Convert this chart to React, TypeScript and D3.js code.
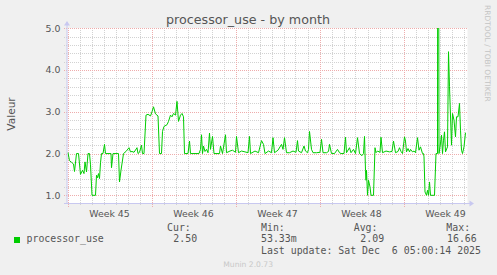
import React from "react";
import * as d3 from "d3";

// hours since 2025-11-03 00:00 UTC, value
const hours: number[] = [
  0, 1, 4, 8, 12, 14, 18, 22, 26, 30, 33, 35, 38, 41, 44, 46, 49, 56, 58, 60, 62, 64, 66, 68, 71, 74, 76, 87, 88, 91,
  102, 104, 107, 112, 117, 123, 126, 129, 133, 139, 141, 144, 148, 150, 153, 157, 161, 166, 169, 172, 176, 181, 184, 188,
  190, 193, 199, 202, 206, 209, 212, 216, 219, 222, 226, 229, 232, 234, 241, 244, 246, 263, 266, 268, 270, 272, 275, 278,
  281, 284, 286, 290, 293, 304, 306, 310, 316, 318, 325, 330, 336, 338, 342, 348, 355, 361, 364, 366, 375, 382, 388, 392,
  395, 402, 408, 411, 414, 421, 428, 431, 434, 438, 444, 451, 457, 460, 462, 468, 473, 476, 480, 482, 484, 488, 491, 498,
  505, 508, 511, 518, 522, 524, 528, 534, 540, 544, 547, 553, 556, 558, 564, 567, 572, 576, 580, 584, 589, 592, 594, 596,
  597, 598, 600, 602, 605, 607, 612, 615, 617, 620, 625, 627, 630, 637, 644, 649, 652, 656, 661, 664, 667, 670, 674, 676,
  678, 681, 684, 686, 690, 693, 696, 700, 703, 706, 710, 712, 713, 715, 718, 720, 722, 724, 726, 734, 737, 740, 741, 743,
  745, 748, 750, 752, 754, 756, 760, 762, 764, 768, 770, 773, 776, 778, 781, 784, 786, 788, 790, 793, 796,
];
const values: number[] = [
  2.0, 2.02, 1.83, 1.79, 1.75, 1.57, 2.0, 2.0, 1.5, 1.6, 1.52, 1.8, 1.56, 2.0, 2.0, 1.73, 1.0, 1.0, 1.48, 1.42, 1.52, 1.4, 1.78, 2.0, 2.0, 2.22, 2.0, 2.0, 1.66, 2.0,
  2.0, 1.32, 1.6, 2.0, 2.05, 2.14, 2.04, 2.05, 2.03, 2.14, 2.0, 2.03, 2.2, 2.0, 2.0, 2.92, 2.94, 2.9, 3.0, 3.12, 2.95, 2.9, 2.0, 2.0,
  2.53, 2.65, 2.69, 2.77, 2.92, 2.88, 2.96, 2.92, 3.25, 2.77, 2.92, 2.96, 2.88, 2.0, 2.0, 2.3, 2.0, 2.0, 2.1, 2.45, 2.0, 2.18, 2.05, 2.1,
  2.02, 2.49, 2.1, 2.41, 2.0, 2.0, 2.18, 2.0, 2.45, 2.02, 2.06, 2.08, 2.03, 2.41, 2.02, 2.06, 2.04, 2.02, 2.41, 2.0, 2.06, 2.02, 2.31, 2.22,
  2.0, 2.06, 2.02, 2.38, 2.02, 2.08, 2.22, 2.1, 2.38, 2.02, 2.02, 2.06, 2.03, 2.31, 2.06, 2.02, 2.18, 2.06, 2.02, 2.1, 2.53, 2.1, 2.02, 2.02,
  2.03, 2.34, 2.02, 2.02, 2.05, 2.22, 2.0, 2.0, 2.1, 2.02, 2.0, 2.0, 2.39, 2.02, 2.14, 2.02, 2.1, 2.0, 2.38, 2.0, 1.95, 2.0, 2.41, 1.6,
  1.36, 1.6, 1.0, 1.36, 1.2, 1.0, 1.0, 2.14, 2.02, 2.06, 2.03, 2.39, 2.02, 2.06, 2.04, 2.05, 2.3, 2.02, 2.05, 2.14, 2.05, 2.0, 2.4, 2.3,
  2.04, 2.12, 2.04, 2.1, 2.04, 2.06, 2.02, 2.38, 2.08, 2.16, 2.0, 2.0, 1.92, 1.08, 1.0, 1.12, 1.0, 1.32, 1.0, 1.0, 2.0, 2.0, 16.66, 2.0,
  2.16, 2.44, 2.0, 2.32, 2.52, 2.04, 2.16, 4.44, 3.6, 2.2, 2.96, 2.8, 2.4, 2.88, 2.88, 3.2, 2.56, 2.08, 2.0, 2.16, 2.5,
];
const yTicks: number[] = [1, 2, 3, 4, 5];
const legendHeaders: string[] = ["Cur:", "Min:", "Avg:", "Max:"];
const legendValues: string[] = ["2.50", "53.33m", "2.09", "16.66"];
const seriesName = "processor_use";
const title = "processor_use - by month";
const lastUpdate = "Last update: Sat Dec  6 05:00:14 2025";

const START = Date.UTC(2025, 10, 3, 0, 0);
const HOUR = 3600 * 1000;

export default function App() {
  const W = 497, H = 275;
  const left = 67.5, right = 467.5, top = 28, bottom = 203.5;
  const x = d3.scaleUtc().domain([new Date(START), new Date(START + 800 * HOUR)]).range([left, right]);
  const y = d3.scaleLinear().domain([1, 5]).range([195.3, 28.3]);

  const data = hours.map((h, i) => ({ t: new Date(START + h * HOUR), v: values[i] }));
  const line = d3.line<{ t: Date; v: number }>().x((d) => x(d.t)).y((d) => y(d.v));

  const days = d3.utcDay.range(new Date(START), new Date(START + 800 * HOUR + 1));
  const weeks = d3.utcMonday.range(new Date(START), new Date(START + 800 * HOUR + 1));
  const minorY = d3.range(1, 5.001, 0.2).map((v) => Math.round(v * 10) / 10);
  const weekFmt = d3.utcFormat("%V");

  const sans = "'DejaVu Sans', sans-serif";
  const mono = "'DejaVu Sans Mono', monospace";
  const txt = "#555";
  const axisCol = "#c8c8f0";
  const minorCol = "#d2d2d2";
  const majorCol = "#eeacac";

  const hdrX = [167, 261, 353.7, 446.3];
  const valX = [173.3, 261, 360.3, 447];

  return (
    <svg width={W} height={H} style={{ position: "absolute", left: 0, top: 0, background: "#f0f0f0" }}>
      <rect x={0} y={0} width={W} height={H} fill="#f0f0f0" />
      <rect x={left} y={top} width={right - left} height={bottom - top} fill="#ffffff" />
      <defs>
        <clipPath id="plotclip">
          <rect x={left} y={top} width={right - left} height={bottom - top} />
        </clipPath>
      </defs>
      <g shapeRendering="crispEdges">
        {/* minor vertical grid (days) */}
        {days.map((d, i) => {
          const px = Math.round(x(d)) + 0.5;
          return (
            <line key={"dv" + i} x1={px} x2={px} y1={top} y2={bottom + 2.5} stroke={minorCol} strokeDasharray="1,1" />
          );
        })}
        {/* minor horizontal grid */}
        {minorY.map((v, i) => {
          const py = Math.round(y(v)) + 0.5;
          return <line key={"mh" + i} x1={64} x2={right} y1={py} y2={py} stroke={minorCol} strokeDasharray="1,1" />;
        })}
        {/* major vertical grid (weeks) */}
        {weeks.map((d, i) => {
          const px = Math.round(x(d)) + 0.5;
          return (
            <line key={"wv" + i} x1={px} x2={px} y1={top} y2={bottom + 3.5} stroke={majorCol} strokeDasharray="1,1" />
          );
        })}
        {/* major horizontal grid */}
        {yTicks.map((v, i) => {
          const py = Math.round(y(v)) + 0.5;
          return <line key={"Mh" + i} x1={64} x2={right} y1={py} y2={py} stroke={majorCol} strokeDasharray="1,1" />;
        })}
      </g>
      {/* data */}
      <g clipPath="url(#plotclip)">
        <path d={line(data) || ""} fill="none" stroke="#00cc00" strokeWidth={1} />
      </g>
      {/* axes */}
      <line x1={left - 0.5} x2={left - 0.5} y1={bottom} y2={24} stroke={axisCol} />
      <path d={`M ${left - 3.5} 25.5 L ${left - 0.5} 21 L ${left + 2.5} 25.5 Z`} fill={axisCol} />
      <line x1={64} x2={right + 3} y1={bottom} y2={bottom} stroke={axisCol} />
      <path d={`M ${right + 2} ${bottom - 3} L ${right + 6.5} ${bottom} L ${right + 2} ${bottom + 3} Z`} fill={axisCol} />
      {/* y tick labels */}
      {yTicks.map((v, i) => (
        <text key={"yl" + i} x={60.5} y={y(v) + 3.4} textAnchor="end" fontFamily={sans} fontSize={9.4} fill={txt}>
          {v.toFixed(1)}
        </text>
      ))}
      {/* week labels */}
      {weeks.map((d, i) => (
        <text
          key={"wl" + i}
          x={x(new Date(d.getTime() + 84 * HOUR))}
          y={216.5}
          textAnchor="middle"
          fontFamily={sans}
          fontSize={9.4}
          fill={txt}
        >
          {"Week " + +weekFmt(d)}
        </text>
      ))}
      {/* title */}
      <text x={248} y={24} textAnchor="middle" fontFamily={sans} fontSize={12.7} fill={txt}>
        {title}
      </text>
      {/* y label */}
      <text
        transform="translate(15,114) rotate(-90)"
        textAnchor="middle"
        fontFamily={sans}
        fontSize={10.6}
        fill={txt}
      >
        Valeur
      </text>
      {/* watermark */}
      <text transform="translate(484.5,5) rotate(90)" fontFamily={sans} fontSize={7.5} fill="#c4c4c4">
        RRDTOOL / TOBI OETIKER
      </text>
      {/* legend */}
      <rect x={14} y={237} width={6} height={6} fill="#00cc00" />
      <text x={26.5} y={242.3} fontFamily={mono} fontSize={9.9} fill={txt}>
        {seriesName}
      </text>
      {legendHeaders.map((h, i) => (
        <text key={"lh" + i} x={hdrX[i]} y={230.7} fontFamily={mono} fontSize={9.9} fill={txt}>
          {h}
        </text>
      ))}
      {legendValues.map((v, i) => (
        <text key={"lv" + i} x={valX[i]} y={242.3} fontFamily={mono} fontSize={9.9} fill={txt}>
          {v}
        </text>
      ))}
      <text x={261} y={254.3} fontFamily={mono} fontSize={9.9} fill={txt} style={{ whiteSpace: "pre" }}>
        {lastUpdate}
      </text>
      <text x={223.3} y={266.5} fontFamily={sans} fontSize={7.6} fill="#c8c8c8">
        Munin 2.0.73
      </text>
    </svg>
  );
}
